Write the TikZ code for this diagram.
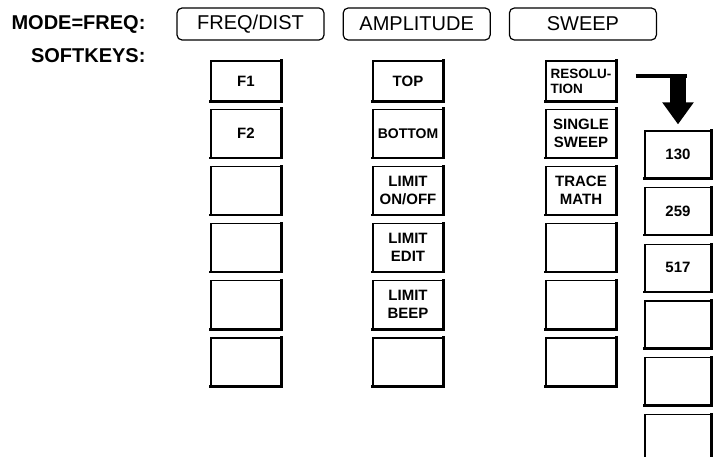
\documentclass[tikz,border=0pt]{standalone}
\usepackage{fontspec}
\setmainfont{Liberation Sans}
\usetikzlibrary{positioning,arrows.meta}

\begin{document}
\begin{tikzpicture}[
  x=1pt, y=-1pt,
  every node/.style={align=center},
  heading/.style={anchor=east, font=\bfseries\fontsize{20}{24}\selectfont},
  tab/.style={draw, line width=1.2pt, rounded corners=5pt, minimum width=147pt, minimum height=32pt, font=\fontsize{20}{24}\selectfont},
  keyedge/.style={line width=2.4pt, line cap=rect},
  key/.style={draw, line width=1.2pt, minimum width=70pt, minimum height=48pt, inner sep=1pt, font=\bfseries\fontsize{15}{18}\selectfont,
    append after command={(\tikzlastnode.south west) edge[keyedge] (\tikzlastnode.south east)
      (\tikzlastnode.south east) edge[keyedge] (\tikzlastnode.north east)}},
  topkey/.style={key, minimum height=40pt},
  valkey/.style={key, minimum width=66pt, minimum height=47pt},
  bar/.style={line width=4pt},
  shaft/.style={line width=16pt, -{Triangle[width=30pt,length=22pt]}}
]
  \useasboundingbox (0,0) rectangle (713,457);

  % header line
  \node[heading] (mode) at (149,24) {MODE=FREQ:};
  \node[heading] (soft) at (149,56) {SOFTKEYS:};
  \node[tab] (freq) at (250.5,24) {FREQ/DIST};
  \node[tab, right=18pt of freq] (ampl) {AMPLITUDE};
  \node[tab, right=18pt of ampl] (sweep) {SWEEP};

  % FREQ/DIST softkeys
  \node[topkey] (f1) at (246,81) {F1};
  \node[key, below=7pt of f1] (f2) {F2};
  \node[key, below=8pt of f2] (fa) {};
  \node[key, below=8pt of fa] (fb) {};
  \node[key, below=8pt of fb] (fc) {};
  \node[key, below=8pt of fc] (fd) {};

  % AMPLITUDE softkeys
  \node[topkey] (top) at (408,81) {TOP};
  \node[key, below=7pt of top, font=\bfseries\fontsize{14}{17}\selectfont] (bottom) {BOTTOM};
  \node[key, below=8pt of bottom] (limon) {LIMIT\\ON/OFF};
  \node[key, below=8pt of limon] (limedit) {LIMIT\\EDIT};
  \node[key, below=8pt of limedit] (limbeep) {LIMIT\\BEEP};
  \node[key, below=8pt of limbeep] (aa) {};

  % SWEEP softkeys
  \node[topkey, align=left, font=\bfseries\fontsize{13.5}{15}\selectfont] (res) at (581,81) {RESOLU-\\TION};
  \node[key, below=7pt of res] (single) {SINGLE\\SWEEP};
  \node[key, below=8pt of single] (trace) {TRACE\\MATH};
  \node[key, below=8pt of trace] (sa) {};
  \node[key, below=8pt of sa] (sb) {};
  \node[key, below=8pt of sb] (sc) {};

  % resolution submenu
  \node[valkey] (k130) at (678,154.5) {130};
  \node[valkey, below=8.5pt of k130] (k259) {259};
  \node[valkey, below=8.5pt of k259] (k517) {517};
  \node[valkey, below=8.5pt of k517] (ka) {};
  \node[valkey, below=8.5pt of ka] (kb) {};
  \node[valkey, below=8.5pt of kb] (kc) {};

  \coordinate[above right=5pt and 19pt of res.east] (arrstart);
  \draw[bar] (arrstart) -- ([xshift=9pt]arrstart -| k130.north);
  \draw[shaft] ([yshift=2pt]arrstart -| k130.north) -- ([yshift=6pt]k130.north);
\end{tikzpicture}
\end{document}
